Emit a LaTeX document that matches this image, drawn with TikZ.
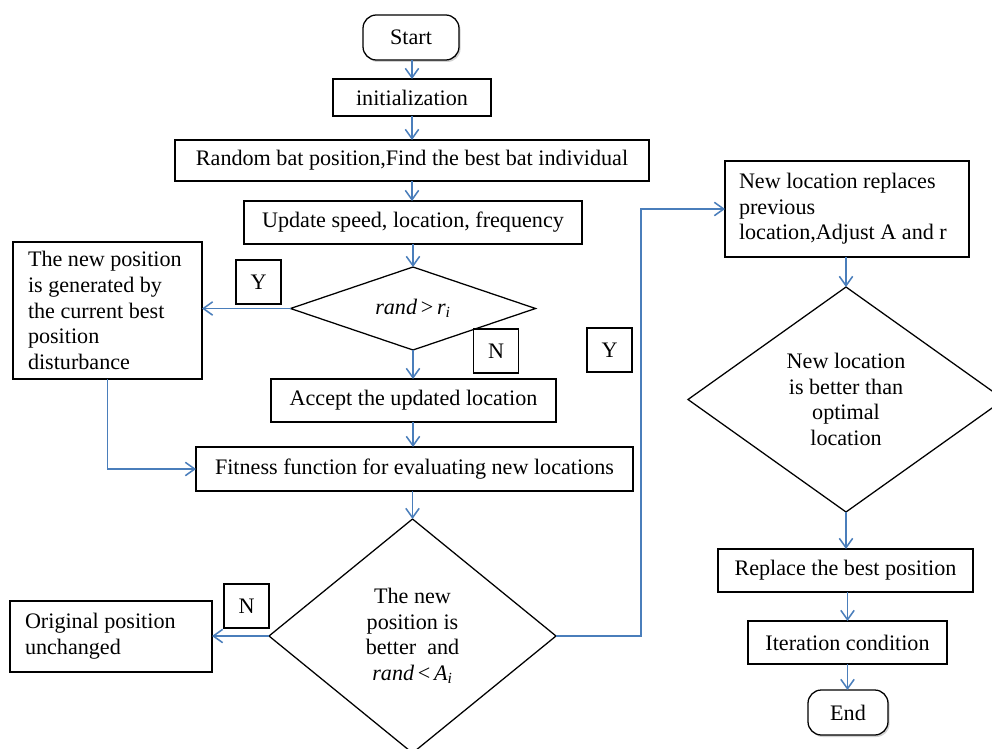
\documentclass[tikz,border=0pt]{standalone}
\usepackage{fontspec}
\setmainfont{Liberation Serif}
\usetikzlibrary{shapes.geometric,arrows.meta,shadows}
\newdimen\pxu \pxu=0.75pt
\definecolor{flowblue}{RGB}{74,126,187}
\newcommand\diagfont{\fontsize{16.6}{19.2}\selectfont}
\begin{document}
\begin{tikzpicture}[x=0.75pt,y=-0.75pt,
  box/.style={draw=black, line width=0.95pt, fill=white, inner sep=0pt, outer sep=0pt, font=\diagfont},
  term/.style={box, rounded corners=10pt, drop shadow={shadow xshift=1.2pt, shadow yshift=-1.5pt, opacity=0.35}},
  dia/.style={box, diamond, align=center},
  yn/.style={box, minimum width=45\pxu, minimum height=44\pxu},
  flow/.style={draw=flowblue, line width=1.15pt, -{Straight Barb[length=7pt,width=10pt]}}]
\path[use as bounding box] (0,0) rectangle (992,749);
\clip (0,0) rectangle (992,749);
\fill[white] (0,0) rectangle (992,749);

% main column
\node[term, minimum width=96\pxu, minimum height=45\pxu] (start) at (411,37.5) {Start};
\node[box, minimum width=158\pxu, minimum height=37\pxu] (init) at (412,97.5) {initialization};
\node[box, minimum width=474\pxu, minimum height=41\pxu] (rand) at (412,160.5) {Random bat position,Find the best bat individual};
\node[box, minimum width=338\pxu, minimum height=43\pxu] (upd) at (413,222.5) {Update speed, location, frequency};
\node[dia, aspect=2.95, minimum width=245\pxu, minimum height=83\pxu] (d1) at (413,308.5) {\textit{rand}\,>\,\textit{r}\textsubscript{\textit{i}}};
\node[box, minimum width=285\pxu, minimum height=43\pxu] (acc) at (413.5,400.5) {Accept the updated location};
\node[box, minimum width=437\pxu, minimum height=44\pxu] (fit) at (414.5,469) {Fitness function for evaluating new locations};
\node[dia, aspect=1.23, minimum width=287\pxu, minimum height=234\pxu] (d2) at (412.5,636) {The new\\position is\\better~ and\\\textit{rand}\,<\,\textit{A}\textsubscript{\textit{i}}};

% left side
\node[box, minimum width=189\pxu, minimum height=137\pxu, text width=159\pxu, align=flush left] (gen) at (107.5,310.5) {The new position\\is generated by\\the current best\\position\\disturbance};
\node[box, minimum width=202\pxu, minimum height=71\pxu, text width=172\pxu, align=flush left] (orig) at (111,636.5) {Original position\\unchanged};

% Y / N labels
\node[yn] (y1) at (258.5,282) {Y};
\node[yn] (n1) at (496,351) {N};
\node[yn] (y2) at (609.5,350) {Y};
\node[yn] (n2) at (246.5,606) {N};

% right column
\node[box, minimum width=244\pxu, minimum height=96\pxu, text width=216\pxu, align=flush left] (rbox) at (847,209) {New location replaces\\previous\\location,Adjust A and r};
\node[dia, aspect=1.4, minimum width=316\pxu, minimum height=225\pxu] (d3) at (846,399.5) {New location\\is better than\\optimal\\location};
\node[box, minimum width=255\pxu, minimum height=43\pxu] (rep) at (845.5,570.5) {Replace the best position};
\node[box, minimum width=199\pxu, minimum height=43\pxu] (iter) at (847.5,642.5) {Iteration condition};
\node[term, minimum width=80\pxu, minimum height=45\pxu] (end) at (848,712.5) {End};

\coordinate (turn) at (641,636);

% connectors
\draw[flow] (init.north |- start.south) -- (init.north);
\draw[flow] (init.south) -- (init.south |- rand.north);
\draw[flow] (init.south |- rand.south) -- (init.south |- upd.north);
\draw[flow] (d1.north |- upd.south) -- (d1.north);
\draw[flow] (d1.west) -- (gen.east |- d1.west);
\draw[flow] (d1.south) -- (d1.south |- acc.north);
\draw[flow] (d1.south |- acc.south) -- (d1.south |- fit.north);
\draw[flow] (gen.south) |- (fit.west);
\draw[flow] (d2.north |- fit.south) -- (d2.north);
\draw[flow] (d2.west) -- (orig.east |- d2.west);
\draw[flow] (d2.east) -- (turn) |- (rbox.west);
\draw[flow] (d3.north |- rbox.south) -- (d3.north);
\draw[flow] (d3.south) -- (d3.south |- rep.north);
\draw[flow] (iter.north |- rep.south) -- (iter.north);
\draw[flow] (iter.south) -- (iter.south |- end.north);
\end{tikzpicture}
\end{document}
